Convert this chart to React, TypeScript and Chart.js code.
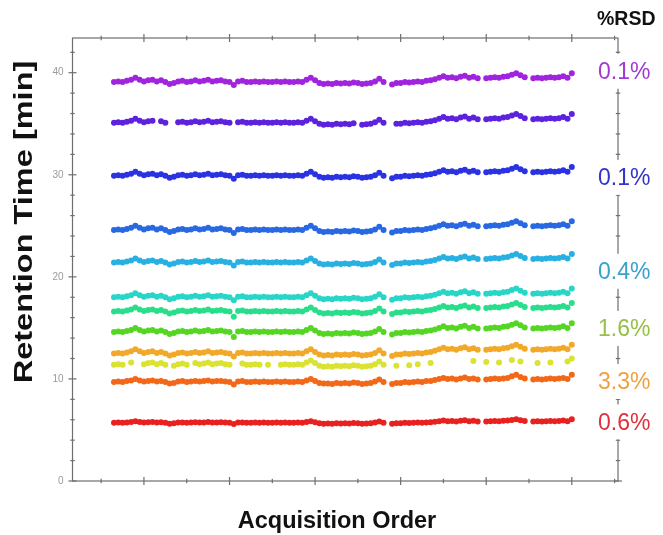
import React, { useEffect, useRef } from "react";
import { Chart, registerables } from "chart.js";
Chart.register(...registerables);

// Acquisition order (x) for each injection
const acquisitionOrder = Array.from({ length: 108 }, (_, i) => i + 3);

// Retention times [min], one array per compound (null = missing point)
const rtViolet = [
  39.10, 39.15, 39.10, 39.20, 39.30, 39.50, 39.30, 39.15, 39.25, 39.30,
  39.15, 39.25, 39.10, 38.90, 39.00, 39.15, 39.20, 39.10, 39.15, 39.25,
  39.15, 39.20, 39.30, 39.15, 39.20, 39.25, 39.15, 39.10, 38.80, 39.15,
  39.20, 39.10, 39.10, 39.15, 39.10, 39.15, 39.10, 39.10, 39.15, 39.10,
  39.15, 39.10, 39.10, 39.15, 39.10, 39.30, 39.50, 39.25, 39.00, 38.90,
  38.95, 38.90, 39.00, 38.95, 39.00, 38.95, 39.05, 39.00, 38.90, 38.95,
  39.00, 39.15, 39.40, 39.10, null, 38.85, 39.00, 39.00, 39.10, 39.05,
  39.10, 39.15, 39.10, 39.20, 39.25, 39.35, 39.50, 39.65, 39.50, 39.55,
  39.45, 39.60, 39.70, 39.50, 39.60, 39.45, null, 39.45, 39.50, 39.55,
  39.50, 39.60, 39.65, 39.80, 39.95, 39.75, 39.55, null, 39.45, 39.50,
  39.45, 39.50, 39.55, 39.50, 39.55, 39.65, 39.50, 39.95,
];
const rtIndigo = [
  35.10, 35.15, 35.10, 35.20, 35.30, 35.50, 35.30, 35.15, 35.25, 35.30,
  null, 35.25, 35.10, null, null, 35.15, 35.20, 35.10, 35.15, 35.25,
  35.15, 35.20, 35.30, 35.15, 35.20, 35.25, 35.15, 35.10, null, 35.15,
  35.20, 35.10, 35.10, 35.15, 35.10, 35.15, 35.10, 35.10, 35.15, 35.10,
  35.15, 35.10, 35.10, 35.15, 35.10, 35.30, 35.50, 35.25, 35.00, 34.90,
  34.95, 34.90, 35.00, 34.95, 35.00, 34.95, 35.05, null, 34.90, 34.95,
  35.00, 35.15, 35.40, 35.10, null, null, 35.00, 35.00, 35.10, 35.05,
  35.10, 35.15, 35.10, 35.20, 35.25, 35.35, 35.50, 35.65, 35.50, 35.55,
  35.45, 35.60, 35.70, 35.50, 35.60, 35.45, null, 35.45, 35.50, 35.55,
  35.50, 35.60, 35.65, 35.80, 35.95, 35.75, 35.55, null, 35.45, 35.50,
  35.45, 35.50, 35.55, 35.50, 35.55, 35.65, 35.50, 35.95,
];
const rtBlue = [
  29.90, 29.95, 29.90, 30.00, 30.10, 30.30, 30.10, 29.95, 30.05, 30.10,
  29.95, 30.05, 29.90, 29.70, 29.80, 29.95, 30.00, 29.90, 29.95, 30.05,
  29.95, 30.00, 30.10, 29.95, 30.00, 30.05, 29.95, 29.90, 29.60, 29.95,
  30.00, 29.90, 29.90, 29.95, 29.90, 29.95, 29.90, 29.90, 29.95, 29.90,
  29.95, 29.90, 29.90, 29.95, 29.90, 30.10, 30.30, 30.05, 29.80, 29.70,
  29.75, 29.70, 29.80, 29.75, 29.80, 29.75, 29.85, 29.80, 29.70, 29.75,
  29.80, 29.95, 30.20, 29.90, null, 29.65, 29.80, 29.80, 29.90, 29.85,
  29.90, 29.95, 29.90, 30.00, 30.05, 30.15, 30.30, 30.45, 30.30, 30.35,
  30.25, 30.40, 30.50, 30.30, 30.40, 30.25, null, 30.25, 30.30, 30.35,
  30.30, 30.40, 30.45, 30.60, 30.75, 30.55, 30.35, null, 30.25, 30.30,
  30.25, 30.30, 30.35, 30.30, 30.35, 30.45, 30.30, 30.75,
];
const rtRoyal = [
  24.60, 24.65, 24.60, 24.70, 24.80, 25.00, 24.80, 24.65, 24.75, 24.80,
  24.65, 24.75, 24.60, 24.40, 24.50, 24.65, 24.70, 24.60, 24.65, 24.75,
  24.65, 24.70, 24.80, 24.65, 24.70, 24.75, 24.65, 24.60, 24.30, 24.65,
  24.70, 24.60, 24.60, 24.65, 24.60, 24.65, 24.60, 24.60, 24.65, 24.60,
  24.65, 24.60, 24.60, 24.65, 24.60, 24.80, 25.00, 24.75, 24.50, 24.40,
  24.45, 24.40, 24.50, 24.45, 24.50, 24.45, 24.55, 24.50, 24.40, 24.45,
  24.50, 24.65, 24.90, 24.60, null, 24.35, 24.50, 24.50, 24.60, 24.55,
  24.60, 24.65, 24.60, 24.70, 24.75, 24.85, 25.00, 25.15, 25.00, 25.05,
  24.95, 25.10, 25.20, 25.00, 25.10, 24.95, null, 24.95, 25.00, 25.05,
  25.00, 25.10, 25.15, 25.30, 25.45, 25.25, 25.05, null, 24.95, 25.00,
  24.95, 25.00, 25.05, 25.00, 25.05, 25.15, 25.00, 25.45,
];
const rtSky = [
  21.40, 21.45, 21.40, 21.50, 21.60, 21.80, 21.60, 21.45, 21.55, 21.60,
  21.45, 21.55, 21.40, 21.20, 21.30, 21.45, 21.50, 21.40, 21.45, 21.55,
  21.45, 21.50, 21.60, 21.45, 21.50, 21.55, 21.45, 21.40, 21.10, 21.45,
  21.50, 21.40, 21.40, 21.45, 21.40, 21.45, 21.40, 21.40, 21.45, 21.40,
  21.45, 21.40, 21.40, 21.45, 21.40, 21.60, 21.80, 21.55, 21.30, 21.20,
  21.25, 21.20, 21.30, 21.25, 21.30, 21.25, 21.35, 21.30, 21.20, 21.25,
  21.30, 21.45, 21.70, 21.40, null, 21.15, 21.30, 21.30, 21.40, 21.35,
  21.40, 21.45, 21.40, 21.50, 21.55, 21.65, 21.80, 21.95, 21.80, 21.85,
  21.75, 21.90, 22.00, 21.80, 21.90, 21.75, null, 21.75, 21.80, 21.85,
  21.80, 21.90, 21.95, 22.10, 22.25, 22.05, 21.85, null, 21.75, 21.80,
  21.75, 21.80, 21.85, 21.80, 21.85, 21.95, 21.80, 22.25,
];
const rtAqua = [
  18.00, 18.05, 18.00, 18.10, 18.20, 18.40, 18.20, 18.05, 18.15, 18.20,
  18.05, 18.15, 18.00, 17.80, 17.90, 18.05, 18.10, 18.00, 18.05, 18.15,
  18.05, 18.10, 18.20, 18.05, 18.10, 18.15, 18.05, 18.00, 17.70, 18.05,
  18.10, 18.00, 18.00, 18.05, 18.00, 18.05, 18.00, 18.00, 18.05, 18.00,
  18.05, 18.00, 18.00, 18.05, 18.00, 18.20, 18.40, 18.15, 17.90, 17.80,
  17.85, 17.80, 17.90, 17.85, 17.90, 17.85, 17.95, 17.90, 17.80, 17.85,
  17.90, 18.05, 18.30, 18.00, null, 17.75, 17.90, 17.90, 18.00, 17.95,
  18.00, 18.05, 18.00, 18.10, 18.15, 18.25, 18.40, 18.55, 18.40, 18.45,
  18.35, 18.50, 18.60, 18.40, 18.50, 18.35, null, 18.35, 18.40, 18.45,
  18.40, 18.50, 18.55, 18.70, 18.85, 18.65, 18.45, null, 18.35, 18.40,
  18.35, 18.40, 18.45, 18.40, 18.45, 18.55, 18.40, 18.85,
];
const rtSpring = [
  16.60, 16.65, 16.60, 16.70, 16.80, 17.00, 16.80, 16.65, 16.75, 16.80,
  16.65, 16.75, 16.60, 16.40, 16.50, 16.65, 16.70, 16.60, 16.65, 16.75,
  16.65, 16.70, 16.80, 16.65, 16.70, 16.75, 16.65, 16.60, 16.10, 16.65,
  16.70, 16.60, 16.60, 16.65, 16.60, 16.65, 16.60, 16.60, 16.65, 16.60,
  16.65, 16.60, 16.60, 16.65, 16.60, 16.80, 17.00, 16.75, 16.50, 16.40,
  16.45, 16.40, 16.50, 16.45, 16.50, 16.45, 16.55, 16.50, 16.40, 16.45,
  16.50, 16.65, 16.90, 16.60, null, 16.35, 16.50, 16.50, 16.60, 16.55,
  16.60, 16.65, 16.60, 16.70, 16.75, 16.85, 17.00, 17.15, 17.00, 17.05,
  16.95, 17.10, 17.20, 17.00, 17.10, 16.95, null, 16.95, 17.00, 17.05,
  17.00, 17.10, 17.15, 17.30, 17.45, 17.25, 17.05, null, 16.95, 17.00,
  16.95, 17.00, 17.05, 17.00, 17.05, 17.15, 17.00, 17.45,
];
const rtGreen = [
  14.60, 14.65, 14.60, 14.70, 14.80, 15.00, 14.80, 14.65, 14.75, 14.80,
  14.65, 14.75, 14.60, 14.40, 14.50, 14.65, 14.70, 14.60, 14.65, 14.75,
  14.65, 14.70, 14.80, 14.65, 14.70, 14.75, 14.65, 14.60, 14.10, 14.65,
  14.70, 14.60, 14.60, 14.65, 14.60, 14.65, 14.60, 14.60, 14.65, 14.60,
  14.65, 14.60, 14.60, 14.65, 14.60, 14.80, 15.00, 14.75, 14.50, 14.40,
  14.45, 14.40, 14.50, 14.45, 14.50, 14.45, 14.55, 14.50, 14.40, 14.45,
  14.50, 14.65, 14.90, 14.60, null, 14.35, 14.50, 14.50, 14.60, 14.55,
  14.60, 14.65, 14.60, 14.70, 14.75, 14.85, 15.00, 15.15, 15.00, 15.05,
  14.95, 15.10, 15.20, 15.00, 15.10, 14.95, null, 14.95, 15.00, 15.05,
  15.00, 15.10, 15.15, 15.30, 15.45, 15.25, 15.05, null, 14.95, 15.00,
  14.95, 15.00, 15.05, 15.00, 15.05, 15.15, 15.00, 15.45,
];
const rtAmber = [
  12.50, 12.55, 12.50, 12.60, 12.70, 12.90, 12.70, 12.55, 12.65, 12.70,
  12.55, 12.65, 12.50, 12.30, 12.40, 12.55, 12.60, 12.50, 12.55, 12.65,
  12.55, 12.60, 12.70, 12.55, 12.60, 12.65, 12.55, 12.50, 12.20, 12.55,
  12.60, 12.50, 12.50, 12.55, 12.50, 12.55, 12.50, 12.50, 12.55, 12.50,
  12.55, 12.50, 12.50, 12.55, 12.50, 12.70, 12.90, 12.65, 12.40, 12.30,
  12.35, 12.30, 12.40, 12.35, 12.40, 12.35, 12.45, 12.40, 12.30, 12.35,
  12.40, 12.55, 12.80, 12.50, null, 12.25, 12.40, 12.40, 12.50, 12.45,
  12.50, 12.55, 12.50, 12.60, 12.65, 12.75, 12.90, 13.05, 12.90, 12.95,
  12.85, 13.00, 13.10, 12.90, 13.00, 12.85, null, 12.85, 12.90, 12.95,
  12.90, 13.00, 13.05, 13.20, 13.35, 13.15, 12.95, null, 12.85, 12.90,
  12.85, 12.90, 12.95, 12.90, 12.95, 13.05, 12.90, 13.35,
];
const rtYellow = [
  11.40, 11.45, 11.40, null, 11.60, null, null, 11.45, 11.55, 11.60,
  11.45, 11.55, 11.40, null, 11.30, 11.45, 11.50, 11.40, null, 11.55,
  11.45, 11.50, 11.60, 11.45, 11.50, 11.55, 11.45, 11.40, null, null,
  11.50, 11.40, 11.40, 11.45, 11.40, null, 11.40, null, null, 11.40,
  11.45, 11.40, 11.40, 11.45, 11.40, 11.60, 11.80, 11.55, 11.30, 11.20,
  11.25, 11.20, 11.30, 11.25, 11.30, 11.25, 11.35, 11.30, 11.20, 11.25,
  11.30, 11.45, 11.70, 11.40, null, null, 11.30, null, null, 11.35,
  null, 11.45, null, null, 11.55, null, null, null, null, null,
  null, null, null, null, 11.75, null, null, 11.65, null, null,
  11.60, null, null, 11.85, null, 11.70, null, null, null, 11.55,
  null, null, 11.60, null, null, null, 11.70, 12.00,
];
const rtOrange = [
  9.70, 9.75, 9.70, 9.80, 9.85, 10.00, 9.85, 9.75, 9.80, 9.85,
  9.75, 9.80, 9.70, 9.55, 9.60, 9.75, 9.80, 9.70, 9.75, 9.80,
  9.75, 9.80, 9.85, 9.75, 9.80, 9.80, 9.75, 9.70, 9.45, 9.75,
  9.80, 9.70, 9.70, 9.75, 9.70, 9.75, 9.70, 9.70, 9.75, 9.70,
  9.75, 9.70, 9.70, 9.75, 9.70, 9.85, 10.00, 9.80, 9.60, 9.55,
  9.55, 9.50, 9.60, 9.55, 9.60, 9.55, 9.65, 9.60, 9.50, 9.55,
  9.60, 9.75, 9.95, 9.70, null, 9.50, 9.60, 9.60, 9.70, 9.65,
  9.70, 9.75, 9.70, 9.80, 9.80, 9.90, 10.00, 10.10, 10.00, 10.05,
  9.95, 10.05, 10.15, 10.00, 10.05, 9.95, null, 9.95, 10.00, 10.05,
  10.00, 10.05, 10.10, 10.25, 10.40, 10.20, 10.05, null, 9.95, 10.00,
  9.95, 10.00, 10.05, 10.00, 10.05, 10.10, 10.00, 10.40,
];
const rtRed = [
  5.70, 5.72, 5.70, 5.74, 5.78, 5.86, 5.78, 5.72, 5.76, 5.78,
  5.72, 5.76, 5.70, 5.62, 5.66, 5.72, 5.74, 5.70, 5.72, 5.76,
  5.72, 5.74, 5.78, 5.72, 5.74, 5.76, 5.72, 5.70, 5.58, 5.72,
  5.74, 5.70, 5.70, 5.72, 5.70, 5.72, 5.70, 5.70, 5.72, 5.70,
  5.72, 5.70, 5.70, 5.72, 5.70, 5.78, 5.86, 5.76, 5.66, 5.62,
  5.64, 5.62, 5.66, 5.64, 5.66, 5.64, 5.68, 5.66, 5.62, 5.64,
  5.66, 5.72, 5.82, 5.70, null, 5.60, 5.66, 5.66, 5.70, 5.68,
  5.70, 5.72, 5.70, 5.74, 5.76, 5.80, 5.86, 5.92, 5.86, 5.88,
  5.84, 5.90, 5.94, 5.86, 5.90, 5.84, null, 5.84, 5.86, 5.88,
  5.86, 5.90, 5.92, 5.98, 6.04, 5.96, 5.88, null, 5.84, 5.86,
  5.84, 5.86, 5.88, 5.86, 5.88, 5.92, 5.86, 6.04,
];

const seriesValues = [
  rtViolet, rtIndigo, rtBlue, rtRoyal, rtSky, rtAqua,
  rtSpring, rtGreen, rtAmber, rtYellow, rtOrange, rtRed,
];
const seriesColors = [
  "rgb(160,36,222)", "rgb(92,34,222)", "rgb(42,50,226)", "rgb(40,104,226)",
  "rgb(40,176,226)", "rgb(40,214,200)", "rgb(40,222,140)", "rgb(84,214,34)",
  "rgb(242,168,40)", "rgb(218,226,50)", "rgb(242,104,24)", "rgb(232,32,32)",
];

// %RSD annotations on the right side
const rsdTexts = ["0.1%", "0.1%", "0.4%", "1.6%", "3.3%", "0.6%"];
const rsdAt = [40.0, 29.6, 20.4, 14.8, 9.6, 5.65];
const rsdColors = ["#a03ad2", "#3434c8", "#38a2cc", "#96c046", "#f0a040", "#e0303c"];

// axis ticks
const xTickValues = [0, 10, 20, 30, 40, 50, 60, 70, 80, 90, 100, 110, 120];
const xMajorTicks = [10, 30, 50, 70, 90, 110];
const yLabelTicks = [0, 10, 20, 30, 40];
const yTickValues = [0, 2, 4, 6, 8, 10, 12, 14, 16, 18, 20, 22, 24, 26, 28, 30, 32, 34, 36, 38, 40, 42];

const FONT = "'Liberation Sans', Arial, sans-serif";

const decorPlugin = {
  id: "decor",
  afterDraw(chart: any) {
    const { ctx, chartArea, scales } = chart;
    const { left, right, top, bottom } = chartArea;
    const x = scales.x;
    const y = scales.y;
    ctx.save();
    ctx.strokeStyle = "#6e6e6e";
    ctx.lineWidth = 1.2;
    ctx.strokeRect(left, top, right - left, bottom - top);
    const line = (x1: number, y1: number, x2: number, y2: number) => {
      ctx.beginPath();
      ctx.moveTo(x1, y1);
      ctx.lineTo(x2, y2);
      ctx.stroke();
    };
    xTickValues.forEach((v) => {
      const px = x.getPixelForValue(v);
      const l = xMajorTicks.includes(v) ? 4 : 2.2;
      line(px, bottom - l, px, bottom + l);
      line(px, top - l, px, top + l);
    });
    yTickValues.forEach((v) => {
      const py = y.getPixelForValue(v);
      const l = yLabelTicks.includes(v) ? 4 : 2.2;
      line(left - l, py, left + l, py);
      line(right - l, py, right + l, py);
    });

    // %RSD labels with white boxes over the right frame
    ctx.textBaseline = "middle";
    ctx.textAlign = "left";
    rsdTexts.forEach((t, i) => {
      const py = y.getPixelForValue(rsdAt[i]);
      ctx.fillStyle = "#ffffff";
      ctx.fillRect(590, py - 19, 73, 35);
    });
    rsdTexts.forEach((t, i) => {
      const py = y.getPixelForValue(rsdAt[i]);
      ctx.fillStyle = rsdColors[i];
      ctx.font = `23px ${FONT}`;
      ctx.fillText(t, 598, py);
    });
    ctx.fillStyle = "#111";
    ctx.font = `bold 19.5px ${FONT}`;
    ctx.fillText("%RSD", 597, 20);

    // axis titles
    ctx.font = `bold 23.5px ${FONT}`;
    ctx.textAlign = "center";
    ctx.fillText("Acquisition Order", 337, 522);
    ctx.save();
    ctx.translate(25, 222);
    ctx.rotate(-Math.PI / 2);
    ctx.scale(1.3, 1);
    ctx.font = `bold 25px ${FONT}`;
    ctx.fillText("Retention Time [min]", 0, 0);
    ctx.restore();
    ctx.restore();
  },
};

export default function App() {
  const ref = useRef<HTMLCanvasElement | null>(null);
  useEffect(() => {
    if (!ref.current) return;
    const datasets = seriesValues.map((vals, k) => ({
      label: `compound ${k + 1}`,
      data: acquisitionOrder
        .map((xv, i) => ({ x: xv, y: vals[i] }))
        .filter((p) => p.y !== null),
      backgroundColor: seriesColors[k],
      borderWidth: 0,
      pointRadius: 3,
      showLine: false,
    }));
    const chart = new Chart(ref.current, {
      type: "scatter",
      data: { datasets } as any,
      options: {
        animation: false,
        responsive: false,
        devicePixelRatio: 1,
        layout: { padding: { left: 0, top: 38, right: 45, bottom: 54 } },
        plugins: { legend: { display: false }, tooltip: { enabled: false } },
        scales: {
          x: {
            type: "linear",
            min: -6.7,
            max: 120.8,
            grid: { display: false, drawTicks: false },
            border: { display: false },
            ticks: { display: false },
            afterFit: (s: any) => {
              s.height = 0;
            },
          },
          y: {
            type: "linear",
            min: 0,
            max: 43.4,
            grid: { display: false, drawTicks: false },
            border: { display: false },
            ticks: {
              padding: 9,
              color: "#9a9a9a",
              font: { size: 10, family: FONT },
            },
            afterBuildTicks: (s: any) => {
              s.ticks = yLabelTicks.map((v) => ({ value: v }));
            },
            afterFit: (s: any) => {
              s.width = 72.5;
            },
          },
        },
      } as any,
      plugins: [decorPlugin],
    });
    return () => chart.destroy();
  }, []);
  return (
    <div style={{ position: "absolute", left: 0, top: 0, width: 663, height: 535, background: "#fff" }}>
      <canvas ref={ref} width={663} height={535} />
    </div>
  );
}
